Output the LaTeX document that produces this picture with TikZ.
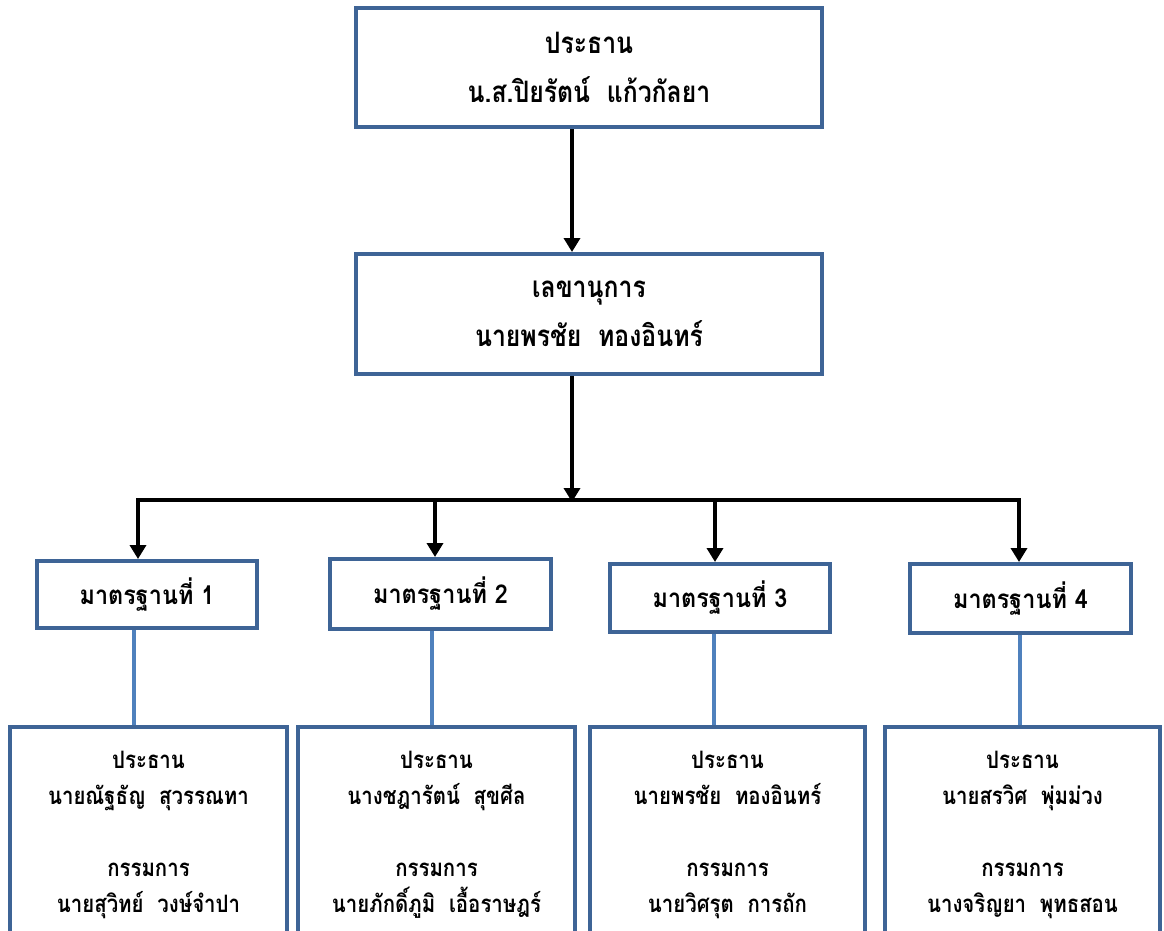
\documentclass[tikz,border=0pt]{standalone}
\usepackage{fontspec}
\usepackage{graphicx}
\newfontfamily\thai[Script=Thai]{Loma}
\usetikzlibrary{arrows.meta}
\definecolor{boxblue}{RGB}{62,100,150}
\definecolor{linkblue}{RGB}{79,129,189}
\newcommand\tl[1]{\scalebox{0.84}[1]{#1}}
\newcommand\ml[1]{\scalebox{0.9}[1]{#1}}
\newcommand\bl[1]{\scalebox{0.85}[1]{#1}}
\tikzset{
  box/.style={draw=boxblue, line width=4pt, fill=white, rectangle, inner sep=0pt, align=center, font=\thai},
  bigtxt/.style={font=\thai\bfseries\fontsize{29.5}{49}\selectfont},
  midtxt/.style={font=\thai\bfseries\fontsize{26}{36}\selectfont},
  smalltxt/.style={font=\thai\bfseries\fontsize{24}{36}\selectfont},
  arr/.style={draw=black, line width=4pt, -{Triangle[length=14pt,width=16pt]}},
  bus/.style={draw=black, line width=4pt},
  link/.style={draw=linkblue, line width=4pt},
}
\begin{document}
\begin{tikzpicture}[x=1pt,y=-1pt]
\useasboundingbox (0,0) rectangle (1164,930);
\clip (0,0) rectangle (1164,930);
% top boxes
\node[box, bigtxt, minimum width=466pt, minimum height=119pt] (pres) at (589,67.5) {\tl{ประธาน}\\\tl{น.ส.ปิยรัตน์\ \ แก้วกัลยา}};
\node[box, bigtxt, minimum width=466pt, minimum height=120pt] (sec) at (589,314) {\tl{เลขานุการ}\\\tl{นายพรชัย\ \ ทองอินทร์}};
% standard boxes
\node[box, midtxt, minimum width=220pt, minimum height=67pt] (s1) at (147,594.5) {\ml{มาตรฐานที่ 1}};
\node[box, midtxt, minimum width=221pt, minimum height=70pt] (s2) at (440.5,594) {\ml{มาตรฐานที่ 2}};
\node[box, midtxt, minimum width=220pt, minimum height=68pt] (s3) at (720,598) {\ml{มาตรฐานที่ 3}};
\node[box, midtxt, minimum width=221pt, minimum height=69pt] (s4) at (1020.5,598.5) {\ml{มาตรฐานที่ 4}};
% member boxes
\node[box, smalltxt, minimum width=277pt, minimum height=215pt] (m1) at (148.5,834.5) {\bl{ประธาน}\\\bl{นายณัฐธัญ\ \ สุวรรณทา}\\ \\\bl{กรรมการ}\\\bl{นายสุวิทย์\ \ วงษ์จำปา}};
\node[box, smalltxt, minimum width=277pt, minimum height=215pt] (m2) at (436.5,834.5) {\bl{ประธาน}\\\bl{นางชฎารัตน์\ \ สุขศีล}\\ \\\bl{กรรมการ}\\\bl{นายภักดิ์ภูมิ\ \ เอื้อราษฎร์}};
\node[box, smalltxt, minimum width=275pt, minimum height=215pt] (m3) at (727.5,834.5) {\bl{ประธาน}\\\bl{นายพรชัย\ \ ทองอินทร์}\\ \\\bl{กรรมการ}\\\bl{นายวิศรุต\ \ การถัก}};
\node[box, smalltxt, minimum width=275pt, minimum height=215pt] (m4) at (1022.5,834.5) {\bl{ประธาน}\\\bl{นายสรวิศ\ \ พุ่มม่วง}\\ \\\bl{กรรมการ}\\\bl{นางจริญยา\ \ พุทธสอน}};
% connectors
\coordinate (busc) at (572,500);
\coordinate (busl) at (138,500);
\coordinate (busr) at (1019,500);
\coordinate (d2) at (435,500);
\coordinate (d3) at (715,500);
\draw[arr] (pres.south -| busc) -- (sec.north -| busc);
\draw[arr] (sec.south -| busc) -- ([yshift=-2pt]busc);
\draw[bus] ([xshift=-2pt]busl) -- ([xshift=2pt]busr);
\draw[arr] (busl) -- (busl |- s1.north);
\draw[arr] (d2) -- (d2 |- s2.north);
\draw[arr] (d3) -- (d3 |- s3.north);
\draw[arr] (busr) -- (busr |- s4.north);
\coordinate (l1) at (134,0);
\coordinate (l2) at (432,0);
\coordinate (l3) at (714,0);
\coordinate (l4) at (1020,0);
\draw[link] (l1 |- s1.south) -- (l1 |- m1.north);
\draw[link] (l2 |- s2.south) -- (l2 |- m2.north);
\draw[link] (l3 |- s3.south) -- (l3 |- m3.north);
\draw[link] (l4 |- s4.south) -- (l4 |- m4.north);
\end{tikzpicture}
\end{document}
